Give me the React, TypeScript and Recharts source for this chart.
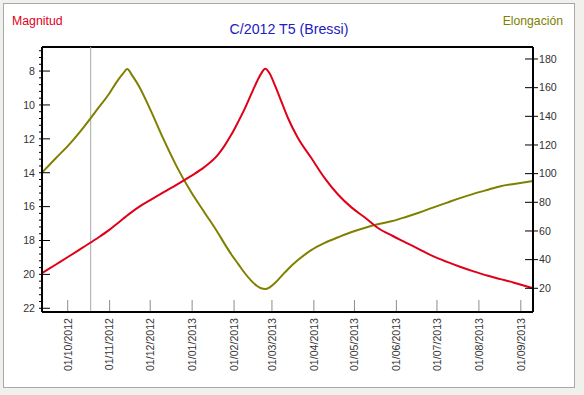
import { LineChart, Line, XAxis, YAxis, ReferenceLine } from "recharts";

// fechas de las observaciones (UTC)
const fechas = [
  "2012-09-12", "2012-09-22", "2012-10-02", "2012-10-12", "2012-10-22",
  "2012-11-01", "2012-11-06", "2012-11-11", "2012-11-14", "2012-11-18",
  "2012-11-23", "2012-12-01", "2012-12-11", "2012-12-21", "2012-12-31",
  "2013-01-10", "2013-01-20", "2013-01-25", "2013-01-30", "2013-02-04",
  "2013-02-09", "2013-02-14", "2013-02-18", "2013-02-21", "2013-02-24",
  "2013-02-27", "2013-03-03", "2013-03-08", "2013-03-13", "2013-03-20",
  "2013-03-30", "2013-04-09", "2013-04-19", "2013-04-29", "2013-05-09",
  "2013-05-19", "2013-05-29", "2013-06-08", "2013-06-18", "2013-06-28",
  "2013-07-08", "2013-07-18", "2013-07-28", "2013-08-07", "2013-08-17",
  "2013-08-27", "2013-09-10",
];

const magnitud = [
  19.93, 19.43, 18.93, 18.42, 17.91,
  17.36, 17.04, 16.72, 16.52, 16.28,
  16.0, 15.62, 15.15, 14.69, 14.2,
  13.67, 12.95, 12.4, 11.75, 11.0,
  10.2, 9.3, 8.6, 8.15, 7.87,
  8.1, 8.8, 9.8, 10.8, 11.92,
  13.12, 14.32, 15.3, 16.06, 16.66,
  17.29, 17.72, 18.12, 18.52, 18.92,
  19.25, 19.55, 19.82, 20.07, 20.28,
  20.49, 20.82,
];

const elongacion = [
  100.7, 110.6, 120.3, 131.5, 143.8,
  156.3, 163.7, 169.9, 173.0, 168.0,
  160.5, 144.8, 123.7, 104.2, 87.5,
  73.1, 58.8, 51.0, 43.6, 37.0,
  30.5, 25.0, 21.6, 20.0, 19.5,
  20.5, 23.5, 28.5, 33.5, 39.5,
  46.6, 51.7, 55.6, 59.3, 62.3,
  64.8, 66.9, 69.8, 72.9, 76.3,
  79.6, 82.9, 85.9, 88.6, 91.2,
  92.8, 94.9,
];

const fechaTicks = [
  "2012-10-01", "2012-11-01", "2012-12-01", "2013-01-01", "2013-02-01",
  "2013-03-01", "2013-04-01", "2013-05-01", "2013-06-01", "2013-07-01",
  "2013-08-01", "2013-09-01",
];
const magTicks = [8, 10, 12, 14, 16, 18, 20, 22];
const elongTicks = [20, 40, 60, 80, 100, 120, 140, 160, 180];
const hoy = "2012-10-18";

const toTime = (s: string) => Date.parse(s + "T00:00:00Z");

const data = fechas.map((f, i) => ({
  t: toTime(f),
  mag: magnitud[i],
  elong: elongacion[i],
}));

const magDomain = [6.58, 22.22];
const elongDomain = [3.46, 188.37];

// marcas menores cada 0.4 en el eje de magnitud
const magAllTicks: number[] = [];
for (let v = 6.8; v <= 22.01; v += 0.4) magAllTicks.push(Math.round(v * 10) / 10);

const FONT = "'Liberation Sans', Arial, sans-serif";
const TICK_COLOR = "#333";

const fmt = (t: number) => {
  const d = new Date(t);
  const dd = String(d.getUTCDate()).padStart(2, "0");
  const mm = String(d.getUTCMonth() + 1).padStart(2, "0");
  return `${dd}/${mm}/${d.getUTCFullYear()}`;
};

function DateTick({ x, y, payload }: any) {
  return (
    <g>
      <line x1={x} x2={x} y1={y - 12} y2={y - 1} stroke="#8c8c8c" />
      <text
        transform={`translate(${x},${y + 6}) rotate(-90)`}
        textAnchor="end"
        dy="0.36em"
        fontSize={10.6}
        fill={TICK_COLOR}
        fontFamily={FONT}
      >
        {fmt(payload.value)}
      </text>
    </g>
  );
}

function MagTick({ x, y, payload }: any) {
  if (!magTicks.includes(payload.value)) {
    return <line x1={x - 3} x2={x} y1={y} y2={y} stroke="#000" />;
  }
  return (
    <g>
      <line x1={x - 3} x2={x + 8} y1={y} y2={y} stroke="#000" />
      <text x={x - 7} y={y} dy="0.36em" textAnchor="end" fontSize={10.6} fill={TICK_COLOR} fontFamily={FONT}>
        {payload.value}
      </text>
    </g>
  );
}

function ElongTick({ x, y, payload }: any) {
  return (
    <g>
      <line x1={x - 8} x2={x + 5} y1={y} y2={y} stroke="#000" />
      <text x={x + 6} y={y} dy="0.36em" textAnchor="start" fontSize={10.6} fill={TICK_COLOR} fontFamily={FONT}>
        {payload.value}
      </text>
    </g>
  );
}

export default function App() {
  return (
    <div
      style={{
        position: "fixed",
        left: 0,
        top: 0,
        width: 584,
        height: 395,
        background: "#f0f0ec",
        fontFamily: FONT,
      }}
    >
      <div
        style={{
          position: "absolute",
          left: 3,
          top: 3,
          width: 570,
          height: 383,
          border: "1px solid #a9a9a9",
          background: "#fff",
        }}
      />
      <svg width={584} height={395} style={{ position: "absolute", left: 0, top: 0 }}>
        <text x={12} y={25} fontSize={12.3} fill="#e0001a" fontFamily={FONT}>
          Magnitud
        </text>
        <text x={563} y={25} fontSize={12.2} fill="#808000" textAnchor="end" fontFamily={FONT}>
          Elongación
        </text>
        <text x={289} y={34} fontSize={14.2} fill="#2020c0" textAnchor="middle" fontFamily={FONT}>
          C/2012 T5 (Bressi)
        </text>
      </svg>
      <div style={{ position: "absolute", left: 0, top: 0 }}>
        <LineChart width={584} height={395} data={data} margin={{ top: 47, right: 11, bottom: 13, left: 8 }}>
          <XAxis
            dataKey="t"
            type="number"
            domain={["dataMin", "dataMax"]}
            ticks={fechaTicks.map(toTime)}
            interval={0}
            height={70}
            tickSize={0}
            tickMargin={0}
            tickLine={false}
            axisLine={{ stroke: "#000", strokeWidth: 2 }}
            tick={<DateTick />}
          />
          <YAxis
            yAxisId="mag"
            reversed
            domain={magDomain}
            allowDataOverflow
            ticks={magAllTicks}
            interval={0}
            width={34}
            tickSize={0}
            tickMargin={0}
            tickLine={false}
            axisLine={{ stroke: "#000", strokeWidth: 2 }}
            tick={<MagTick />}
          />
          <YAxis
            yAxisId="elong"
            orientation="right"
            domain={elongDomain}
            allowDataOverflow
            ticks={elongTicks}
            interval={0}
            width={40}
            tickSize={0}
            tickMargin={0}
            tickLine={false}
            axisLine={{ stroke: "#000", strokeWidth: 2 }}
            tick={<ElongTick />}
          />
          <ReferenceLine yAxisId="mag" y={magDomain[0]} stroke="#000" strokeWidth={2} />
          <ReferenceLine yAxisId="mag" x={toTime(hoy)} stroke="#a8a8a8" strokeWidth={1} />
          <Line
            yAxisId="elong"
            type="monotone"
            dataKey="elong"
            stroke="#808000"
            strokeWidth={2}
            dot={false}
            activeDot={false}
            isAnimationActive={false}
          />
          <Line
            yAxisId="mag"
            type="monotone"
            dataKey="mag"
            stroke="#e0001a"
            strokeWidth={2}
            dot={false}
            activeDot={false}
            isAnimationActive={false}
          />
        </LineChart>
      </div>
    </div>
  );
}
